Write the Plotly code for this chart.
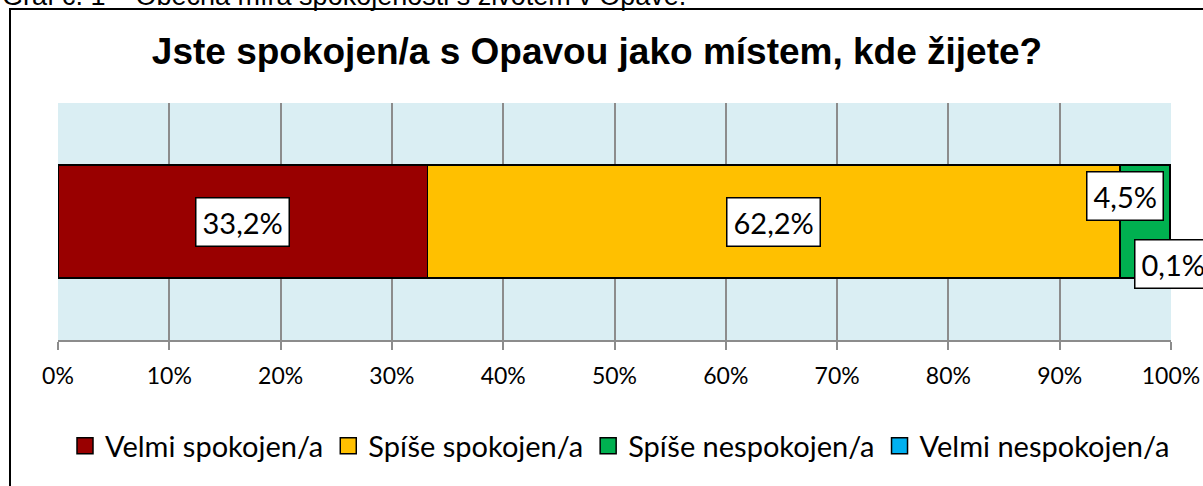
import plotly.graph_objects as go

categories = ["Velmi spokojen/a", "Spíše spokojen/a", "Spíše nespokojen/a", "Velmi nespokojen/a"]
values = [33.2, 62.2, 4.5, 0.1]
colors = ["#990000", "#FFC000", "#00B050", "#00B0F0"]
tick_vals = [0, 10, 20, 30, 40, 50, 60, 70, 80, 90, 100]
tick_text = [f"{v}%" for v in tick_vals]
title_text = "Jste spokojen/a s Opavou jako místem, kde žijete?"
caption_text = "Graf č. 1 – Obecná míra spokojenosti s životem v Opavě."

W, H = 1203, 486
L, R, T, B = 58, 32, 103, 146
PW, PH = W - L - R, H - T - B

def px2x(px):
    return (px - L) / PW

def py2y(py):
    return (H - B - py) / PH

FONT = "Lato"

fig = go.Figure()
for name, v, c in zip(categories, values, colors):
    fig.add_trace(go.Bar(
        y=[""], x=[v], name=name, orientation="h",
        marker=dict(color=c, line=dict(color="black", width=1.5)),
        hoverinfo="x+name", showlegend=False,
    ))
# legend entries with larger square symbols
for name, c in zip(categories, colors):
    fig.add_trace(go.Scatter(
        x=[None], y=[None], mode="markers", name=name,
        marker=dict(symbol="square", size=16, color=c,
                    line=dict(color="black", width=1.5)),
    ))

# data labels (white boxes); small segments' labels moved aside as in the reference
shifts = [(0, 0), (0, 0), (-20, 26), (3, -42)]
cum = 0
annotations = []
for v, (dx, dy) in zip(values, shifts):
    mid = cum + v / 2
    cum += v
    annotations.append(dict(
        x=mid, y=0, xref="x", yref="y",
        text=f"{v:.1f}".replace(".", ",") + "%",
        showarrow=False, xshift=dx, yshift=dy,
        font=dict(family=FONT, size=29, color="black"),
        bgcolor="white", bordercolor="black", borderwidth=1.5, borderpad=6,
    ))

annotations.append(dict(
    x=px2x(0), y=py2y(13), xref="paper", yref="paper",
    xanchor="left", yanchor="bottom", showarrow=False,
    text=caption_text,
    font=dict(family="Liberation Sans, Arial", size=27, color="black"),
))

fig.update_layout(
    width=W, height=H,
    margin=dict(l=L, r=R, t=T, b=B, autoexpand=False),
    paper_bgcolor="white",
    plot_bgcolor="#DAEEF3",
    barmode="stack",
    bargap=0.523,
    title=dict(
        text=f"<b>{title_text}</b>",
        x=597 / W, xref="container", xanchor="center",
        y=1 - 51 / H, yref="container", yanchor="middle",
        font=dict(family="Liberation Sans, Arial", size=37, color="black"),
    ),
    xaxis=dict(
        range=[0, 100], tickvals=tick_vals, ticktext=tick_text,
        showgrid=True, gridcolor="#8C8C8C", gridwidth=1.5,
        showline=True, linecolor="#8C8C8C", linewidth=1.5,
        ticks="outside", ticklen=8, tickcolor="#8C8C8C", tickwidth=1.5,
        tickfont=dict(family=FONT, size=23, color="black"),
        ticklabelstandoff=7,
        zeroline=False, fixedrange=True,
    ),
    yaxis=dict(
        range=[-0.5, 0.5], showticklabels=False, showgrid=False,
        zeroline=False, showline=False, fixedrange=True,
    ),
    legend=dict(
        orientation="h", x=px2x(620), xanchor="center",
        y=py2y(446), yanchor="middle", traceorder="normal",
        font=dict(family=FONT, size=29, color="black"),
        itemwidth=30,
    ),
    annotations=annotations,
    shapes=[dict(
        type="rect", xref="paper", yref="paper",
        x0=px2x(10), x1=px2x(1215), y0=py2y(500), y1=py2y(9),
        line=dict(color="black", width=2), fillcolor="rgba(0,0,0,0)",
        layer="above",
    )],
)

fig.write_html(
    "out.html",
    config={"displayModeBar": False},
    post_script="document.body.style.margin='0';document.body.style.overflow='hidden';",
)
